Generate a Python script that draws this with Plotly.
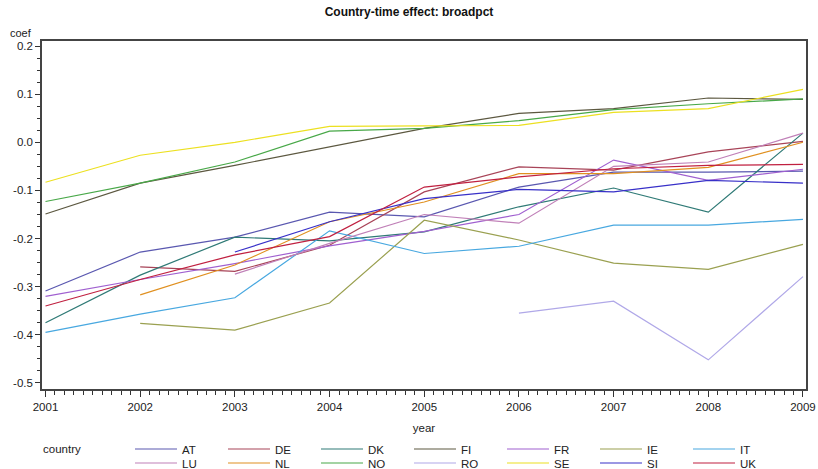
import plotly.graph_objects as go

# Estimated country-time effects on broadpct, by year
years = [2001, 2002, 2003, 2004, 2005, 2006, 2007, 2008, 2009]

AT = [-0.309, -0.228, -0.197, -0.145, -0.155, -0.093, -0.062, -0.062, -0.060]
DE = [None, -0.259, -0.268, -0.214, -0.103, -0.051, -0.058, -0.020, 0.002]
DK = [-0.375, -0.276, -0.197, -0.205, -0.186, -0.134, -0.095, -0.145, 0.019]
FI = [-0.149, -0.085, -0.048, -0.010, 0.029, 0.060, 0.070, 0.092, 0.089]
FR = [-0.320, -0.285, -0.252, -0.215, -0.185, -0.150, -0.037, -0.079, -0.056]
IE = [None, -0.376, -0.390, -0.334, -0.162, -0.203, -0.251, -0.264, -0.212]
IT = [-0.395, -0.357, -0.323, -0.184, -0.231, -0.216, -0.172, -0.172, -0.160]
LU = [None, None, -0.274, -0.210, -0.150, -0.168, -0.050, -0.041, 0.019]
NL = [None, -0.317, -0.255, -0.165, -0.124, -0.065, -0.065, -0.052, 0.000]
NO = [-0.123, -0.085, -0.041, 0.023, 0.029, 0.045, 0.068, 0.080, 0.090]
RO = [None, None, None, None, None, -0.355, -0.330, -0.452, -0.279]
SE = [-0.083, -0.027, 0.000, 0.033, 0.034, 0.035, 0.062, 0.070, 0.110]
SI = [None, None, -0.228, -0.165, -0.117, -0.098, -0.103, -0.079, -0.085]
UK = [-0.340, -0.285, -0.234, -0.196, -0.093, -0.072, -0.055, -0.048, -0.046]

legend_row1 = ["AT", "DE", "DK", "FI", "FR", "IE", "IT"]
legend_row2 = ["LU", "NL", "NO", "RO", "SE", "SI", "UK"]
series = {"AT": AT, "DE": DE, "DK": DK, "FI": FI, "FR": FR, "IE": IE, "IT": IT,
          "LU": LU, "NL": NL, "NO": NO, "RO": RO, "SE": SE, "SI": SI, "UK": UK}
colors = {"AT": "#5a58b0", "DE": "#a84458", "DK": "#2f7a76", "FI": "#5c5840",
          "FR": "#a060d0", "IE": "#9aa050", "IT": "#48a8e0", "LU": "#c080b8",
          "NL": "#e09020", "NO": "#48a848", "RO": "#b0a8e8", "SE": "#ece020",
          "SI": "#3830c8", "UK": "#c02040"}

y_ticks = [0.2, 0.1, 0.0, -0.1, -0.2, -0.3, -0.4, -0.5]
y_tick_text = ["0.2", "0.1", "0.0", "-0.1", "-0.2", "-0.3", "-0.4", "-0.5"]

font_family = "Liberation Sans, Arial, sans-serif"
W, H = 818, 469
M_L, M_R, M_T, M_B = 42, 12, 41, 80
plot_h = H - M_T - M_B
plot_w = W - M_L - M_R

fig = go.Figure()
for legend_name, row in (("legend", legend_row1), ("legend2", legend_row2)):
    for c in row:
        fig.add_trace(go.Scatter(
            x=years, y=series[c], mode="lines", name=c,
            line=dict(color=colors[c], width=1.2),
            connectgaps=False, legend=legend_name,
        ))

legend_common = dict(
    orientation="h", xref="container", yref="container",
    xanchor="left", yanchor="middle",
    entrywidth=36, entrywidthmode="pixels", itemwidth=42,
    font=dict(size=11.5), itemclick=False, bgcolor="rgba(0,0,0,0)",
    borderwidth=0,
)

fig.update_layout(
    width=W, height=H,
    margin=dict(l=M_L, r=M_R, t=M_T, b=M_B),
    paper_bgcolor="white", plot_bgcolor="white",
    font=dict(family=font_family, size=11.5, color="#222222"),
    title=dict(text="<b>Country-time effect: broadpct</b>",
               x=0.5, xanchor="center", y=1 - 12 / H, yanchor="middle",
               font=dict(size=12, color="#111111")),
    xaxis=dict(
        range=[2000.963, 2009.032], automargin=False,
        tickmode="array", tickvals=years, ticktext=[str(y) for y in years],
        ticks="outside", ticklen=6, tickcolor="#333333",
        showline=True, linecolor="#444444", linewidth=1.5, mirror=True,
        showgrid=False, zeroline=False,
        minor=dict(dtick=0.1, ticks="outside", ticklen=4, tickcolor="#333333", showgrid=False),
        title=dict(text="year", standoff=12, font=dict(size=11.5)),
        tickfont=dict(size=11.5),
    ),
    yaxis=dict(
        range=[-0.5125, 0.2104], automargin=False,
        tickmode="array", tickvals=y_ticks, ticktext=y_tick_text,
        ticks="outside", ticklen=5, tickcolor="#333333",
        showline=True, linecolor="#444444", linewidth=1.5, mirror=True,
        showgrid=False, zeroline=False,
        minor=dict(dtick=0.025, tick0=0, ticks="outside", ticklen=3, tickcolor="#333333", showgrid=False),
        tickfont=dict(size=11.5),
    ),
    showlegend=True,
    legend=dict(x=130 / W, y=1 - 449 / H, **legend_common),
    legend2=dict(x=130 / W, y=1 - 463 / H, **legend_common),
)

fig.add_annotation(text="coef", xref="paper", yref="paper",
                   x=(21 - M_L) / plot_w, y=(H - M_B - 33) / plot_h,
                   xanchor="center", yanchor="middle",
                   showarrow=False, font=dict(size=11))
fig.add_annotation(text="country", xref="paper", yref="paper",
                   x=(62 - M_L) / plot_w, y=(H - M_B - 449) / plot_h,
                   xanchor="center", yanchor="middle",
                   showarrow=False, font=dict(size=11.5))

fig.write_html("out.html")
